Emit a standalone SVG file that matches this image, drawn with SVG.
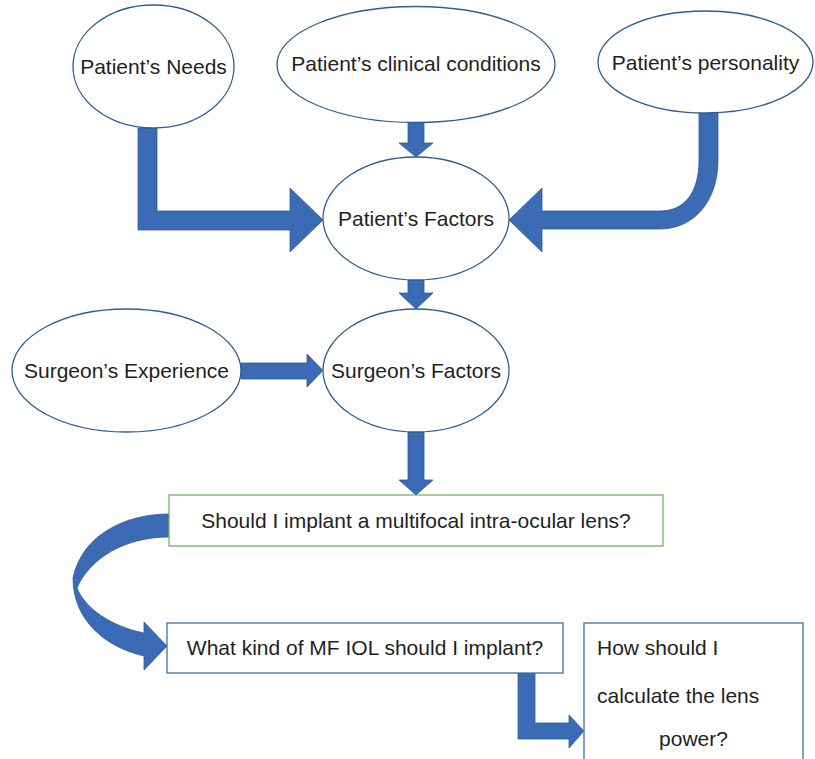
<svg xmlns="http://www.w3.org/2000/svg" width="815" height="759" viewBox="0 0 815 759">
<style>
.el{fill:#fff;stroke:#2F5F8E;stroke-width:1.3}
.bx{fill:#fff;stroke:#41719C;stroke-width:1.3}
.bxg{fill:#fff;stroke:#74B35E;stroke-width:1.3}
.t{font-family:"Liberation Sans",Arial,sans-serif;font-size:21px;fill:#231F20;text-anchor:middle}
.ts{text-anchor:start}
.ar{fill:#3A6BB4;stroke:#2F5B9C;stroke-width:0.8;stroke-linejoin:miter}
</style>
<rect width="815" height="759" fill="#fff"/>
<g id="connectors">
<path class="ar" d="M138,128 L157,128 L157,211 L290,211 L290,188 L323,220 L290,252 L290,230 L138,230 Z"/>
<path class="ar" d="M408,122 L424,122 L424,143 L433,143 L416,157 L399,143 L408,143 Z"/>
<path class="ar" d="M699,113 L718,113 L718,160 C718,200 695,229 660,229 L542,229 L542,252 L509,220 L542,188 L542,211 L660,211 C685,211 699,192 699,160 Z"/>
<path class="ar" d="M408,280 L424,280 L424,293 L433,293 L416,309 L399,293 L408,293 Z"/>
<path class="ar" d="M241,363 L307,363 L307,354 L323,370.5 L307,387 L307,379 L241,379 Z"/>
<path class="ar" d="M408,432 L424,432 L424,480 L433,480 L416,495 L399,480 L408,480 Z"/>
<path class="ar" d="M169,514 C125,514 82,535 73,578 C73,620 105,647 144,656 L144,670 L167,646 L144,622 L144,633 C110,626 85,608 77,588 C90,558 125,537 169,537 Z"/>
<path class="ar" d="M518,673 L535,673 L535,723 L569,723 L569,715 L584,731 L569,748 L569,739 L518,739 Z"/>
</g>
<g id="patients-needs">
<ellipse class="el" cx="153.5" cy="66.5" rx="80.5" ry="61.5"/>
<text class="t" x="153.5" y="73.5">Patient’s Needs</text>
</g>
<g id="patients-clinical">
<ellipse class="el" cx="416" cy="64.5" rx="139" ry="58"/>
<text class="t" x="416" y="71">Patient’s clinical conditions</text>
</g>
<g id="patients-personality">
<ellipse class="el" cx="705.5" cy="62" rx="107.5" ry="51"/>
<text class="t" x="705.5" y="70">Patient’s personality</text>
</g>
<g id="patients-factors">
<ellipse class="el" cx="416" cy="218.5" rx="93" ry="61.5"/>
<text class="t" x="416" y="226">Patient’s Factors</text>
</g>
<g id="surgeons-experience">
<ellipse class="el" cx="126.5" cy="370.5" rx="114.5" ry="61.5"/>
<text class="t" x="126.5" y="377.5">Surgeon’s Experience</text>
</g>
<g id="surgeons-factors">
<ellipse class="el" cx="416" cy="370.5" rx="93" ry="61.5"/>
<text class="t" x="416" y="377.5">Surgeon’s Factors</text>
</g>
<g id="q1">
<rect class="bxg" x="169" y="495" width="494" height="51"/>
<text class="t" x="416" y="528">Should I implant a multifocal intra-ocular lens?</text>
</g>
<g id="q2">
<rect class="bx" x="167" y="623" width="396" height="50"/>
<text class="t" x="365" y="655">What kind of MF IOL should I implant?</text>
</g>
<g id="q3">
<rect class="bx" x="584" y="623" width="219" height="150"/>
<text class="t ts" x="597" y="655">How should I</text>
<text class="t ts" x="597" y="703">calculate the lens</text>
<text class="t" x="693.5" y="746">power?</text>
</g>
</svg>
